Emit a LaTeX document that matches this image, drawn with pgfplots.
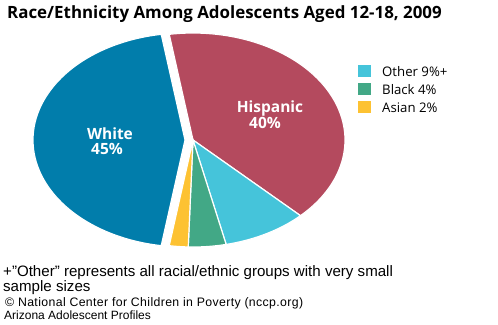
\documentclass[border=0pt]{standalone}
\usepackage{pgfplots}
\pgfplotsset{compat=1.18}
\usepackage{fontspec}
\setmainfont{Liberation Sans}
\newfontfamily\titlefont{Open Sans}
\definecolor{cWhite}{RGB}{1,125,171}
\definecolor{cHisp}{RGB}{180,74,94}
\definecolor{cOther}{RGB}{69,196,218}
\definecolor{cBlack}{RGB}{66,168,134}
\definecolor{cAsian}{RGB}{253,194,50}
% pie values (percent), clockwise from 99 deg
\def\vHisp{40}\def\vOther{9}\def\vBlack{4}\def\vAsian{2}\def\vWhite{45}
\begin{document}
\begin{tikzpicture}
\begin{axis}[
  scale only axis, width=498pt, height=324pt,
  xmin=0, xmax=498, ymin=0, ymax=324, y dir=reverse,
  axis lines=none, clip=false,
  samples=80, variable=\t,
]
\path (rel axis cs:0,0) rectangle (rel axis cs:1,1);
% Hispanic
\addplot[fill=cHisp, draw=white, line width=1.2pt, domain={99-3.6*\vHisp}:99]
  ({193+152*cos(\t)}, {140-107*sin(\t)}) -- (axis cs:193,140) -- cycle;
% Other
\addplot[fill=cOther, draw=white, line width=1.2pt, domain={99-3.6*(\vHisp+\vOther)}:{99-3.6*\vHisp}]
  ({193+152*cos(\t)}, {140-107*sin(\t)}) -- (axis cs:193,140) -- cycle;
% Black
\addplot[fill=cBlack, draw=white, line width=1.2pt, domain={99-3.6*(\vHisp+\vOther+\vBlack)}:{99-3.6*(\vHisp+\vOther)}]
  ({193+152*cos(\t)}, {140-107*sin(\t)}) -- (axis cs:193,140) -- cycle;
% Asian
\addplot[fill=cAsian, draw=white, line width=1.2pt, domain={99-3.6*(\vHisp+\vOther+\vBlack+\vAsian)}:{99-3.6*(\vHisp+\vOther+\vBlack)}]
  ({193+152*cos(\t)}, {140-107*sin(\t)}) -- (axis cs:193,140) -- cycle;
% White (exploded)
\addplot[fill=cWhite, draw=white, line width=1.2pt, domain=99:{99+3.6*\vWhite}]
  ({185+152*cos(\t)}, {140-107*sin(\t)}) -- (axis cs:185,140) -- cycle;

\node[white, anchor=base, inner sep=0pt, font=\titlefont\bfseries\fontsize{15.5}{16}\selectfont] at (axis cs:110,139) {White};
\node[white, anchor=base, inner sep=0pt, font=\titlefont\bfseries\fontsize{15.5}{16}\selectfont] at (axis cs:107,154) {45\%};
\node[white, anchor=base, inner sep=0pt, font=\titlefont\bfseries\fontsize{15.5}{16}\selectfont] at (axis cs:270,112) {Hispanic};
\node[white, anchor=base, inner sep=0pt, font=\titlefont\bfseries\fontsize{15.5}{16}\selectfont] at (axis cs:265,128) {40\%};

% legend
\fill[cOther] (axis cs:358,65) rectangle (axis cs:371,77);
\fill[cBlack] (axis cs:358,83) rectangle (axis cs:371,95);
\fill[cAsian] (axis cs:358,101) rectangle (axis cs:371,113);
\node[anchor=base west, inner sep=0pt, font=\titlefont\fontsize{13.2}{14}\selectfont] at (axis cs:382,76) {Other 9\%+};
\node[anchor=base west, inner sep=0pt, font=\titlefont\fontsize{13.2}{14}\selectfont] at (axis cs:382,94) {Black 4\%};
\node[anchor=base west, inner sep=0pt, font=\titlefont\fontsize{13.2}{14}\selectfont] at (axis cs:382,112) {Asian 2\%};

\node[anchor=base west, inner sep=0pt, font=\titlefont\bfseries\fontsize{16.9}{17}\selectfont] at (axis cs:7,19) {Race/Ethnicity Among Adolescents Aged 12-18, 2009};

\node[anchor=base west, inner sep=0pt, font=\fontsize{15.1}{16}\selectfont] at (axis cs:3,276) {+\symbol{34}Other\symbol{34} represents all racial/ethnic groups with very small};
\node[anchor=base west, inner sep=0pt, font=\fontsize{15.1}{16}\selectfont] at (axis cs:3,291) {sample sizes};
\node[anchor=base west, inner sep=0pt, font=\addfontfeature{LetterSpace=3}\fontsize{12.3}{13}\selectfont] at (axis cs:5,306) {\textcopyright\ National Center for Children in Poverty (nccp.org)};
\node[anchor=base west, inner sep=0pt, font=\fontsize{12}{13}\selectfont] at (axis cs:4,319) {Arizona Adolescent Profiles};
\end{axis}
\end{tikzpicture}
\end{document}
